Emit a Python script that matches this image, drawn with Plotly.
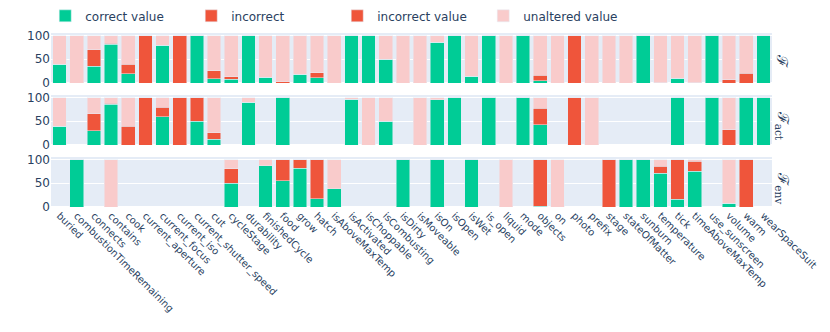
import plotly.graph_objects as go
from plotly.subplots import make_subplots

categories = ["buried", "combustionTimeRemaining", "connects", "contains", "cook",
              "current_aperture", "current_focus", "current_iso", "current_shutter_speed", "cut",
              "cycleStage", "durability", "finishedCycle", "food", "grow",
              "hatch", "isAboveMaxTemp", "isActivated", "isChoppable", "isCombusting",
              "isDirty", "isMoveable", "isOn", "isOpen", "isWet",
              "is_open", "liquid", "mode", "objects", "on",
              "photo", "prefix", "stage", "stateOfMatter", "sunburn",
              "temperature", "tick", "timeAboveMaxTemp", "use_sunscreen", "volume",
              "warm", "wearSpaceSuit"]

N = None
# Row 1: F
f_correct = [40, 0, 35, 82, 20, 0, 80, 0, 100, 9,
             8, 100, 12, 0, 18, 11, 0, 100, 100, 50,
             0, 0, 86, 100, 14, 100, 0, 100, 5, 0,
             0, 0, 0, 0, 100, 0, 10, 0, 100, 0,
             0, 100]
f_incorrect = [0, 0, 35, 2, 20, 100, 0, 100, 0, 17,
               5, 0, 0, 3, 0, 11, 0, 0, 0, 0,
               0, 0, 0, 0, 0, 0, 0, 0, 11, 0,
               100, 0, 0, 0, 0, 1, 0, 1, 0, 7,
               21, 0]
f_incorrect_value = [N] * 42
f_unaltered = [60, 100, 30, 16, 60, 0, 20, 0, 0, 74,
               87, 0, 88, 97, 82, 78, 100, 0, 0, 50,
               100, 100, 14, 0, 86, 0, 100, 0, 84, 100,
               0, 100, 100, 100, 0, 99, 90, 99, 0, 93,
               79, 0]

# Row 2: F_act
act_correct = [40, N, 30, 86, 0, 0, 60, 0, 50, 12,
               N, 90, N, 100, N, N, N, 96, 0, 50,
               N, 0, 95, 100, N, 100, N, 100, 43, N,
               0, 0, N, N, N, N, 100, N, 100, 0,
               100, 100]
act_incorrect = [0, N, 36, 2, 40, 100, 20, 100, 50, 14,
                 N, 0, N, 0, N, N, N, 0, 0, 0,
                 N, 0, 0, 0, N, 0, N, 0, 34, N,
                 100, 0, N, N, N, N, 0, N, 0, 32,
                 0, 0]
act_incorrect_value = [N] * 42
act_unaltered = [60, N, 34, 12, 60, 0, 20, 0, 0, 74,
                 N, 10, N, 0, N, N, N, 4, 100, 50,
                 N, 100, 5, 0, N, 0, N, 0, 23, N,
                 0, 100, N, N, N, N, 0, N, 0, 68,
                 0, 0]

# Row 3: F_env
env_correct = [N, 100, N, 0, N, N, N, N, N, N,
               50, N, 87, 55, 82, 17, 38, N, N, N,
               100, N, 100, N, 100, N, 0, N, 2, 0,
               N, N, 0, 100, 100, 71, 16, 75, N, 8,
               0, N]
env_incorrect = [N, 0, N, 0, N, N, N, N, N, N,
                 31, N, 0, 45, 18, 83, 0, N, N, N,
                 0, N, 0, N, 0, N, 0, N, 98, 0,
                 N, N, 100, 0, 0, 15, 84, 21, N, 0,
                 100, N]
env_incorrect_value = [N] * 42
env_unaltered = [N, 0, N, 100, N, N, N, N, N, N,
                 19, N, 13, 0, 0, 0, 62, N, N, N,
                 0, N, 0, N, 0, N, 100, N, 0, 100,
                 N, N, 0, 0, 0, 14, 0, 4, N, 92,
                 0, N]

series_names = ["correct value", "incorrect", "incorrect value", "unaltered value"]
colors = ["#00CC96", "#EF553B", "#EF553B", "#F9CBCB"]
rows_data = [
    [f_correct, f_incorrect, f_incorrect_value, f_unaltered],
    [act_correct, act_incorrect, act_incorrect_value, act_unaltered],
    [env_correct, env_incorrect, env_incorrect_value, env_unaltered],
]
row_labels = ["ℱ", "ℱ<sub>act</sub>", "ℱ<sub>env</sub>"]

fig = make_subplots(rows=3, cols=1, shared_xaxes=True, vertical_spacing=0.069)

for r, data in enumerate(rows_data, start=1):
    for name, color, vals in zip(series_names, colors, data):
        fig.add_trace(go.Bar(x=categories, y=vals, name=name, marker_color=color,
                             legendgroup=name, showlegend=(r == 1)), row=r, col=1)

for r in range(1, 4):
    fig.update_yaxes(tickvals=[0, 50, 100], tickfont=dict(size=12), row=r, col=1)
    fig.update_xaxes(categoryorder="array", categoryarray=categories, row=r, col=1)
fig.update_xaxes(tickangle=45, tickfont=dict(size=10), row=3, col=1)

centers = [0.84, 0.47, 0.11]
for lab, yc in zip(row_labels, centers):
    fig.add_annotation(text=lab, x=1.0, xref="paper", y=yc, yref="paper",
                       xanchor="left", yanchor="middle", showarrow=False,
                       textangle=90, xshift=-1,
                       font=dict(family="DejaVu Serif", size=15, color="#2a3f5f"))

fig.update_layout(
    template="plotly",
    barmode="stack",
    width=814, height=316,
    margin=dict(l=43, r=50, t=25, b=117, autoexpand=False),
    font=dict(family="DejaVu Sans", size=12, color="#2a3f5f"),
    legend=dict(orientation="h", x=-0.008, xanchor="left", y=1.182, yanchor="top",
                entrywidth=101, font=dict(size=12), bgcolor="rgba(0,0,0,0)"),
)

fig.write_html("out.html")
